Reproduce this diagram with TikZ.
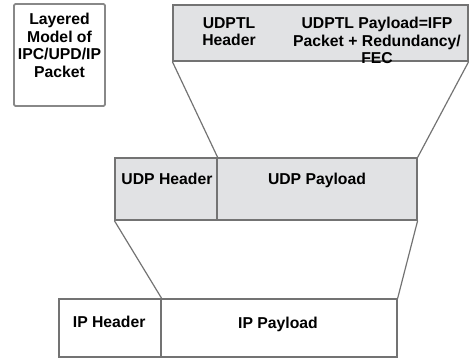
\documentclass[tikz,border=0pt]{standalone}
\usepackage{fontspec}
\setmainfont{Liberation Sans}
\usepackage{tikz}
\definecolor{boxfill}{HTML}{E1E2E4}
\definecolor{edge}{HTML}{737373}

\begin{document}
\begin{tikzpicture}[
  field/.style={draw=edge, line width=0.9pt, inner sep=0pt},
  shaded/.style={field, fill=boxfill},
  lbl/.style={font=\fontsize{11.2}{12.45}\selectfont\bfseries, align=center, inner sep=0pt},
  link/.style={draw=edge, line width=0.85pt}]
\useasboundingbox (0,0) rectangle (11.75,9.025);
\node[field, draw=edge!85, line width=1.3pt, rounded corners=1pt,
  minimum width=2.275cm, minimum height=2.55cm] (legend) at (1.4875,7.65) {};
\node[lbl, anchor=north] (legendtxt) at (1.4875,8.7) {Layered\\Model of\\IPC/UPD/IP\\Packet};
\node[shaded, minimum width=7.375cm, minimum height=1.4cm] (udptl) at (8.0125,8.2) {};
\node[shaded, minimum width=2.55cm, minimum height=1.55cm] (udphdr) at (4.15,4.3) {};
\node[shaded, minimum width=5cm, minimum height=1.55cm] (udppay) at (7.925,4.3) {};
\node[field, minimum width=2.55cm, minimum height=1.45cm] (iphdr) at (2.75,0.825) {};
\node[field, minimum width=5.9cm, minimum height=1.45cm] (ippay) at (6.975,0.825) {};
\node[lbl, anchor=north] (udptlhdr) at (5.725,8.6) {UDPTL\\Header};
\node[lbl, anchor=north] (udptlpay) at (9.425,8.6) {UDPTL Payload=IFP\\Packet + Redundancy/\\FEC};
\node[lbl, anchor=base] (udphdrtxt) at (4.175,4.425) {UDP Header};
\node[lbl, anchor=base] (udppaytxt) at (7.925,4.425) {UDP Payload};
\node[lbl, anchor=base] (iphdrtxt) at (2.73,0.85) {IP Header};
\node[lbl, anchor=base] (ippaytxt) at (6.95,0.825) {IP Payload};
\draw[link] (udptl.south west) -- (udphdr.north east)
  (udptl.south east) -- (udppay.north east);
\draw[link] (udphdr.south west) -- (iphdr.north east)
  (udppay.south east) -- (ippay.north east);
\end{tikzpicture}
\end{document}
